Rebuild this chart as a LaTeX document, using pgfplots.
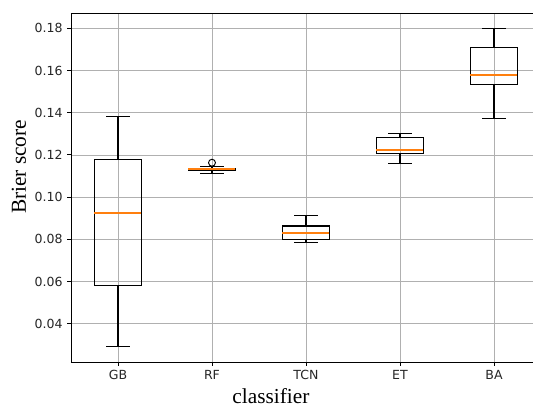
\documentclass[border=0pt]{standalone}
\usepackage{fontspec}
\setmainfont{Liberation Serif}
\newfontfamily\ticksfont{DejaVu Sans}
\usepackage{pgfplots}
\pgfplotsset{compat=1.18}
\usepgfplotslibrary{statistics}
\definecolor{mplorange}{HTML}{FF7F0E}
\definecolor{gridgray}{HTML}{B0B0B0}
\begin{document}
\begin{tikzpicture}
\begin{axis}[
  at={(53.25pt,33.75pt)}, anchor=south west,
  scale only axis,
  width=352.5pt, height=261.75pt,
  xmin=0.5, xmax=5.5,
  ymin=0.0218, ymax=0.1873,
  xtick={1,2,3,4,5},
  xticklabels={GB,RF,TCN,ET,BA},
  ytick={0.04,0.06,0.08,0.10,0.12,0.14,0.16,0.18},
  yticklabel style={/pgf/number format/.cd,fixed,fixed zerofill,precision=2},
  /pgf/number format/assume math mode=true,
  tick label style={font=\ticksfont\fontsize{9.4}{10}\selectfont, text=black!85},
  tick align=outside,
  major tick length=2.8pt,
  tick style={black, line width=0.7pt},
  xtick pos=bottom, ytick pos=left,
  grid=major,
  major grid style={gridgray, line width=0.6pt},
  axis line style={black, line width=0.7pt},
  axis x line*=bottom, axis y line*=left,
  clip=false,
  boxplot/draw direction=y,
  boxplot/box extend=0.5,
  boxplot/whisker extend=0.25,
  boxplot/every box/.style={draw=black, line width=0.9pt, fill=none},
  boxplot/every whisker/.style={black, line width=0.9pt},
  boxplot/every median/.style={mplorange, line width=1.3pt},
]
% GB
\addplot+[black, mark=o, mark size=2.6pt, mark options={black, line width=0.7pt},
  boxplot prepared={draw position=1,
    lower whisker=0.0291, lower quartile=0.0579, median=0.0923,
    upper quartile=0.1179, upper whisker=0.1384}] coordinates {};
% RF
\addplot+[black, mark=o, mark size=2.6pt, mark options={black, line width=0.7pt},
  boxplot prepared={draw position=2,
    lower whisker=0.1113, lower quartile=0.1126, median=0.1132,
    upper quartile=0.1137, upper whisker=0.1144}] coordinates {(2,0.1163)};
% TCN
\addplot+[black, mark=o, mark size=2.6pt, mark options={black, line width=0.7pt},
  boxplot prepared={draw position=3,
    lower whisker=0.0784, lower quartile=0.0800, median=0.0828,
    upper quartile=0.0863, upper whisker=0.0912}] coordinates {};
% ET
\addplot+[black, mark=o, mark size=2.6pt, mark options={black, line width=0.7pt},
  boxplot prepared={draw position=4,
    lower whisker=0.1158, lower quartile=0.1208, median=0.1223,
    upper quartile=0.1283, upper whisker=0.1300}] coordinates {};
% BA
\addplot+[black, mark=o, mark size=2.6pt, mark options={black, line width=0.7pt},
  boxplot prepared={draw position=5,
    lower whisker=0.1373, lower quartile=0.1533, median=0.1579,
    upper quartile=0.1708, upper whisker=0.1800}] coordinates {};
% top spine
\draw[black, line width=0.7pt] (rel axis cs:0,1) -- (rel axis cs:1,1);
\node[rotate=90, font=\fontsize{16}{18}\selectfont] at (rel axis cs:-0.1106,0.559) {Brier score};
\node[anchor=base, font=\fontsize{16}{18}\selectfont] at (rel axis cs:0.4255,-0.118) {classifier};
\end{axis}
\pgfresetboundingbox
\useasboundingbox (0pt,0pt) rectangle (399.75pt,305.25pt);
\end{tikzpicture}
\end{document}
